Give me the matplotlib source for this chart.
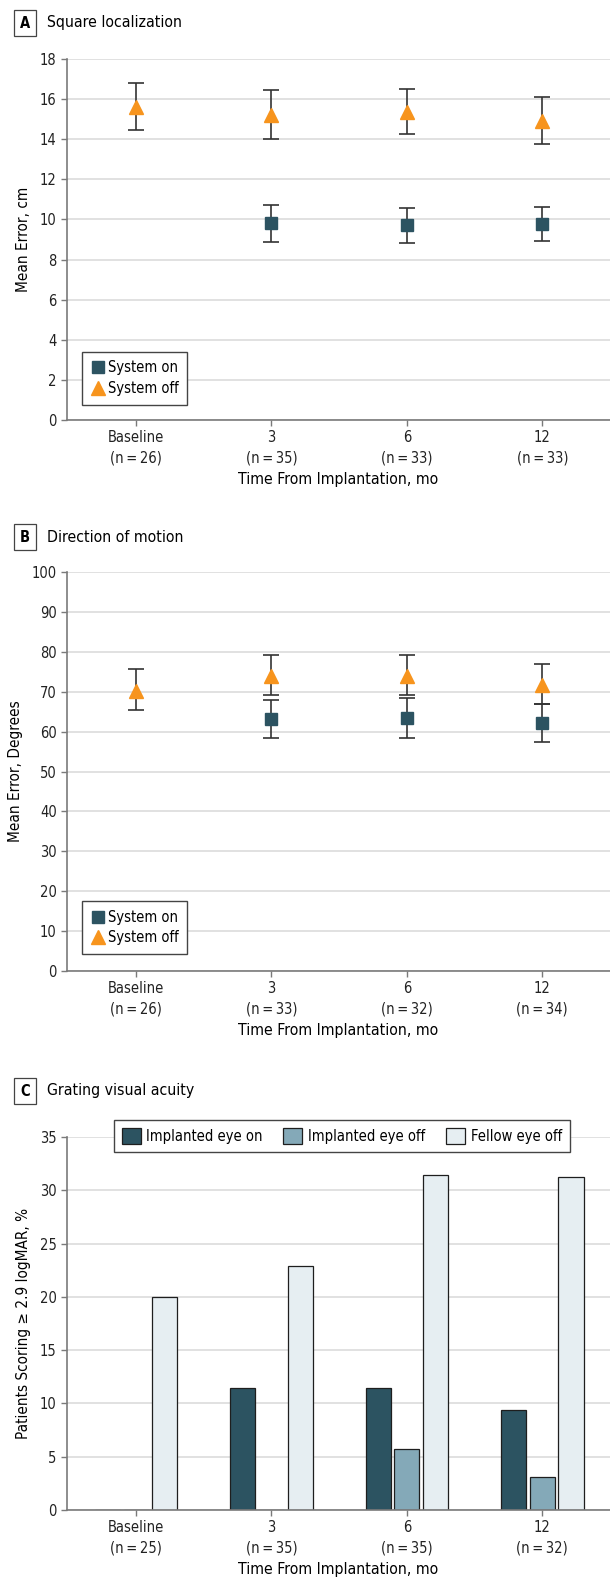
import matplotlib
matplotlib.use('Agg')
import matplotlib.pyplot as plt
import numpy as np

plt.rcParams['font.family'] = ['DejaVu Sans']
plt.rcParams['font.stretch'] = 'condensed'
plt.rcParams['font.size'] = 10.5

# data
ts = '\u2009'
sq_labels = ['Baseline\n(n' + ts + '=' + ts + '26)', '3\n(n' + ts + '=' + ts + '35)',
             '6\n(n' + ts + '=' + ts + '33)', '12\n(n' + ts + '=' + ts + '33)']
sq_off = [15.6, 15.2, 15.35, 14.9]
sq_off_hi = [16.78, 16.43, 16.5, 16.12]
sq_off_lo = [14.47, 14.02, 14.25, 13.75]
sq_on = [np.nan, 9.8, 9.7, 9.75]
sq_on_hi = [np.nan, 10.73, 10.55, 10.6]
sq_on_lo = [np.nan, 8.9, 8.85, 8.92]

dm_labels = ['Baseline\n(n' + ts + '=' + ts + '26)', '3\n(n' + ts + '=' + ts + '33)',
             '6\n(n' + ts + '=' + ts + '32)', '12\n(n' + ts + '=' + ts + '34)']
dm_off = [70.3, 74.0, 74.0, 71.7]
dm_off_hi = [75.7, 79.3, 79.3, 76.9]
dm_off_lo = [65.5, 69.2, 69.2, 67.0]
dm_on = [np.nan, 63.2, 63.4, 62.2]
dm_on_hi = [np.nan, 68.0, 68.3, 67.0]
dm_on_lo = [np.nan, 58.3, 58.4, 57.4]

gv_labels = ['Baseline\n(n' + ts + '=' + ts + '25)', '3\n(n' + ts + '=' + ts + '35)',
             '6\n(n' + ts + '=' + ts + '35)', '12\n(n' + ts + '=' + ts + '32)']
gv_implanted_on = [0, 11.43, 11.43, 9.38]
gv_implanted_off = [0, 0, 5.71, 3.13]
gv_fellow_off = [20.0, 22.86, 31.43, 31.25]

c_on = '#2c5361'
c_off = '#f7941d'
c_light = '#84a9b8'
c_fellow = '#e6eef2'
spine_c = '#7a7a7a'
grid_c = '#dcdcdc'

fig = plt.figure(figsize=(6.1, 15.79), dpi=100)


def style_axes(ax, labels, ylabel):
    x = np.arange(len(labels))
    ax.set_xlim(-0.51, 3.5)
    ax.set_xticks(x)
    ax.set_xticklabels(labels, linespacing=1.4)
    ax.set_xlabel('Time From Implantation, mo', labelpad=5, fontsize=11.3)
    ax.set_ylabel(ylabel, labelpad=6, fontsize=11)
    for s in ['top', 'right']:
        ax.spines[s].set_visible(False)
    for s in ['left', 'bottom']:
        ax.spines[s].set_color(spine_c)
        ax.spines[s].set_linewidth(1.2)
    ax.tick_params(axis='both', length=4, width=1, labelsize=10.5)
    ax.tick_params(axis='x', colors=spine_c, labelcolor='#222222')
    ax.tick_params(axis='y', colors=spine_c, labelcolor='#222222')
    ax.grid(axis='y', color=grid_c, linewidth=1.2)
    ax.set_axisbelow(True)


def panel_title(y, letter, text):
    fig.text(25 / 610, 1 - y / 1579, letter, ha='center', va='center', fontsize=10.5,
             fontweight='bold',
             bbox=dict(boxstyle='square,pad=0.4', fc='white', ec='#444444', lw=0.9))
    fig.text(47 / 610, 1 - y / 1579, text, ha='left', va='center', fontsize=11.3)


def points(ax, x, vals, hi, lo, marker, color, ms, label):
    vals = np.array(vals)
    err = [vals - np.array(lo), np.array(hi) - vals]
    ax.errorbar(x, vals, yerr=err, fmt='none', ecolor='#333333', elinewidth=1.2,
                capsize=6, capthick=1.2, zorder=3)
    ax.plot(x, vals, linestyle='none', marker=marker, color=color, markersize=ms,
            label=label, zorder=4)


legend_kw = dict(loc='lower left', bbox_to_anchor=(0.028, 0.042), frameon=True,
                 fancybox=False, edgecolor='#444444', framealpha=1, handletextpad=0.15,
                 borderpad=0.6, labelspacing=0.4, handlelength=1.0, borderaxespad=0)

# Panel A
axA = fig.add_axes([67 / 610, 1 - 420 / 1579, 543 / 610, 361 / 1579])
x = np.arange(4)
points(axA, x, sq_on, sq_on_hi, sq_on_lo, 's', c_on, 8, 'System on')
points(axA, x, sq_off, sq_off_hi, sq_off_lo, '^', c_off, 10, 'System off')
axA.set_ylim(0, 18)
axA.set_yticks(range(0, 19, 2))
style_axes(axA, sq_labels, 'Mean Error, cm')
axA.legend(**legend_kw)
panel_title(23, 'A', 'Square localization')

# Panel B
axB = fig.add_axes([67 / 610, 1 - 971 / 1579, 543 / 610, 399 / 1579])
points(axB, x, dm_on, dm_on_hi, dm_on_lo, 's', c_on, 8, 'System on')
points(axB, x, dm_off, dm_off_hi, dm_off_lo, '^', c_off, 10, 'System off')
axB.set_ylim(0, 100)
axB.set_yticks(range(0, 101, 10))
style_axes(axB, dm_labels, 'Mean Error, Degrees')
axB.legend(**legend_kw)
panel_title(537, 'B', 'Direction of motion')

# Panel C
axC = fig.add_axes([67 / 610, 1 - 1510 / 1579, 543 / 610, 373 / 1579])
w = 0.185
step = 0.212
axC.bar(x - step, gv_implanted_on, w, color=c_on, edgecolor='#1e1e1e', linewidth=0.9,
        label='Implanted eye on')
axC.bar(x, gv_implanted_off, w, color=c_light, edgecolor='#1e1e1e', linewidth=0.9,
        label='Implanted eye off')
axC.bar(x + step, gv_fellow_off, w, color=c_fellow, edgecolor='#1e1e1e', linewidth=0.9,
        label='Fellow eye off')
axC.set_ylim(0, 35)
axC.set_yticks(range(0, 36, 5))
style_axes(axC, gv_labels, 'Patients Scoring \u2265 2.9 logMAR, %')
axC.legend(loc='upper center', bbox_to_anchor=(0.506, 1.046), ncol=3, frameon=True,
           fancybox=False, edgecolor='#444444', framealpha=1, handlelength=1.3,
           handleheight=1.3, handletextpad=0.4, columnspacing=1.4, borderpad=0.55,
           borderaxespad=0)
panel_title(1091, 'C', 'Grating visual acuity')

fig.savefig('out.png', dpi=100)
